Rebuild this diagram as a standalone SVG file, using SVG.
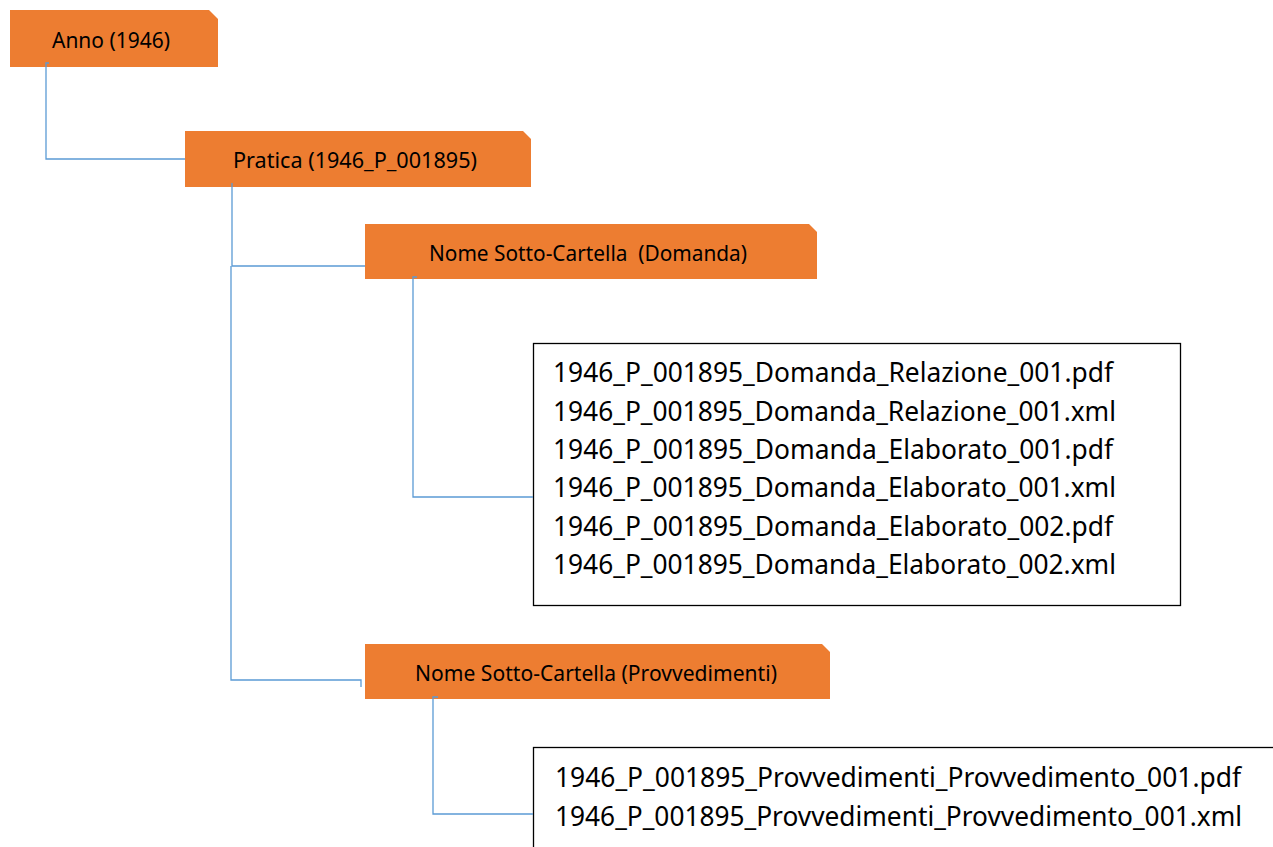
<svg xmlns="http://www.w3.org/2000/svg" width="1273" height="847" viewBox="0 0 1273 847">
<style>
.folder{fill:#ED7D31;}
.hdr{font-family:"Noto Sans","Open Sans",sans-serif;font-size:22px;fill:#000;white-space:pre;}
.file{font-family:"Noto Sans","Open Sans",sans-serif;font-size:26.5px;fill:#000;}
.list{fill:#fff;stroke:#000;stroke-width:1.3;}
.conn{fill:none;stroke:#5B9BD5;stroke-width:1.3;}
</style>
<rect width="1273" height="847" fill="#fff"/>
<g id="anno">
<path class="folder" d="M10,10 H209 L218,19 V67 H10 Z"/>
<text class="hdr" x="52" y="48" textLength="118" lengthAdjust="spacingAndGlyphs">Anno (1946)</text>
</g>
<g id="pratica">
<path class="folder" d="M185,131 H523 L531,139 V187 H185 Z"/>
<text class="hdr" x="233" y="168" textLength="244" lengthAdjust="spacingAndGlyphs">Pratica (1946_P_001895)</text>
</g>
<g id="domanda">
<path class="folder" d="M365,224 H809 L817,232 V279 H365 Z"/>
<text class="hdr" x="429" y="261" textLength="318" lengthAdjust="spacingAndGlyphs">Nome Sotto-Cartella  (Domanda)</text>
</g>
<g id="provvedimenti">
<path class="folder" d="M365,644 H822 L830,652 V699 H365 Z"/>
<text class="hdr" x="415" y="681" textLength="362" lengthAdjust="spacingAndGlyphs">Nome Sotto-Cartella (Provvedimenti)</text>
</g>
<g id="files-domanda">
<rect class="list" x="533.5" y="343.5" width="647" height="262"/>
<text class="file" x="553" y="382" textLength="560" lengthAdjust="spacingAndGlyphs">1946_P_001895_Domanda_Relazione_001.pdf</text>
<text class="file" x="553" y="420.5" textLength="563" lengthAdjust="spacingAndGlyphs">1946_P_001895_Domanda_Relazione_001.xml</text>
<text class="file" x="553" y="459" textLength="560" lengthAdjust="spacingAndGlyphs">1946_P_001895_Domanda_Elaborato_001.pdf</text>
<text class="file" x="553" y="497" textLength="563" lengthAdjust="spacingAndGlyphs">1946_P_001895_Domanda_Elaborato_001.xml</text>
<text class="file" x="553" y="535.5" textLength="560" lengthAdjust="spacingAndGlyphs">1946_P_001895_Domanda_Elaborato_002.pdf</text>
<text class="file" x="553" y="574" textLength="563" lengthAdjust="spacingAndGlyphs">1946_P_001895_Domanda_Elaborato_002.xml</text>
</g>
<g id="files-provvedimenti">
<rect class="list" x="533.5" y="747.5" width="760" height="120"/>
<text class="file" x="555" y="787" textLength="686" lengthAdjust="spacingAndGlyphs">1946_P_001895_Provvedimenti_Provvedimento_001.pdf</text>
<text class="file" x="555" y="825.5" textLength="687" lengthAdjust="spacingAndGlyphs">1946_P_001895_Provvedimenti_Provvedimento_001.xml</text>
</g>
<g id="connectors">
<path class="conn" d="M49,63 H46 V159 H185"/>
<path class="conn" d="M232,183 V266 H365"/>
<path class="conn" d="M231,266 V680 H361 V687"/>
<path class="conn" d="M417,277 H413 V497 H533"/>
<path class="conn" d="M438,697 H433 V814 H533"/>
</g>
</svg>
